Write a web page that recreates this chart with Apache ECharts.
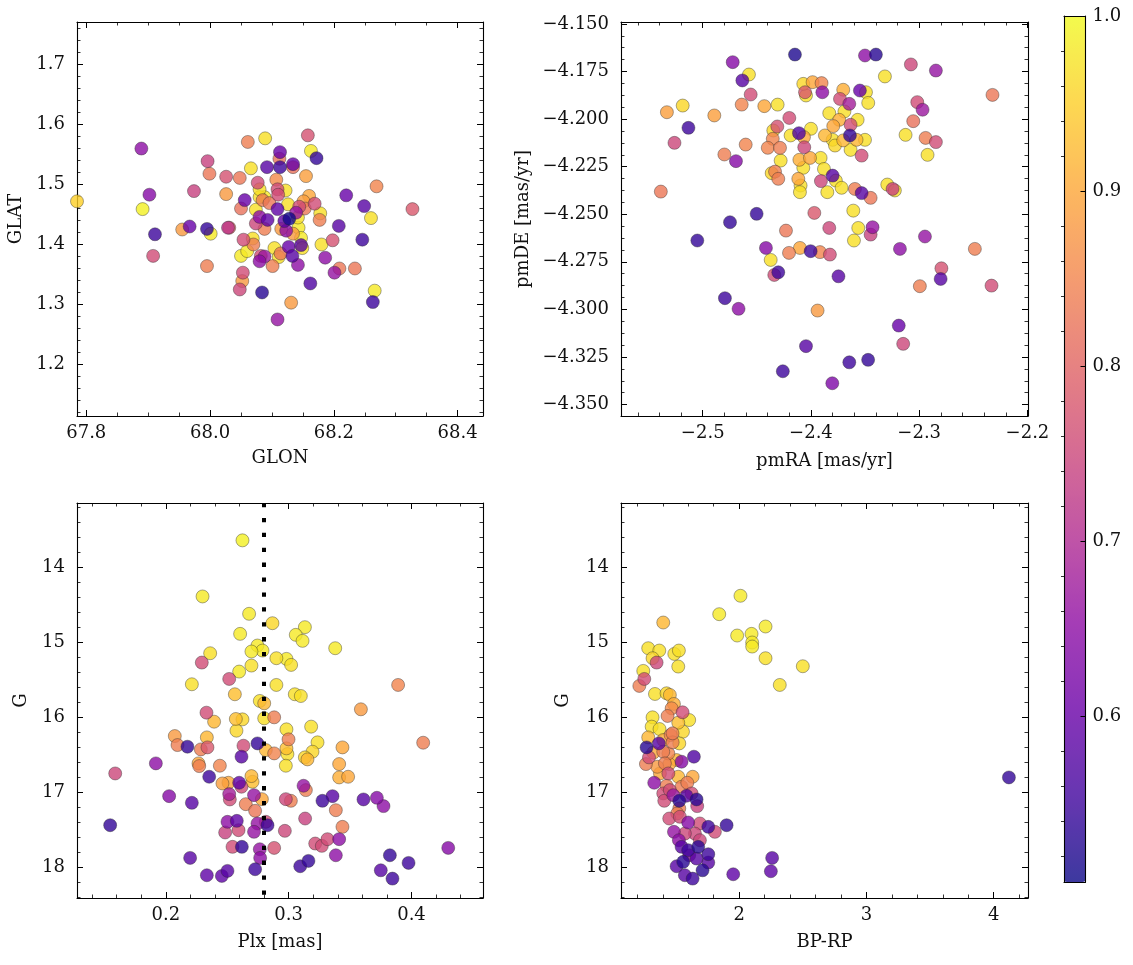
<!DOCTYPE html>
<html>
<head>
<meta charset="utf-8">
<script src="https://cdn.jsdelivr.net/npm/echarts/dist/echarts.min.js"></script>
<style>
  html, body { margin: 0; padding: 0; background: #fff; }
  #chart { width: 1133px; height: 965px; }
</style>
</head>
<body>
<div id="chart"></div>
<script>
// ---------------- data ----------------
// Top-left: GLON vs GLAT
const glon = [67.785,67.889,67.902,67.891,67.911,67.908,67.955,67.967,67.974,67.996,67.999,67.995,68.001,67.995,68.026,68.026,68.029,68.031,68.048,68.056,68.050,68.054,68.053,68.052,68.048,68.061,68.066,68.069,68.050,68.060,68.070,68.077,68.080,68.085,68.074,68.074,68.080,68.088,68.080,68.088,68.084,68.089,68.092,68.088,68.093,68.096,68.101,68.104,68.107,68.109,68.110,68.112,68.113,68.113,68.109,68.115,68.111,68.114,68.109,68.122,68.123,68.120,68.126,68.128,68.127,68.133,68.134,68.134,68.131,68.134,68.142,68.142,68.143,68.139,68.144,68.147,68.149,68.147,68.151,68.153,68.155,68.158,68.160,68.163,68.169,68.172,68.162,68.178,68.177,68.180,68.186,68.198,68.201,68.209,68.208,68.220,68.234,68.246,68.249,68.260,68.266,68.263,68.269,68.327,68.080,68.082];
const glat = [1.472,1.560,1.483,1.459,1.417,1.381,1.425,1.430,1.489,1.539,1.518,1.426,1.418,1.364,1.513,1.484,1.428,1.428,1.511,1.474,1.460,1.408,1.353,1.339,1.325,1.571,1.527,1.410,1.381,1.389,1.400,1.503,1.479,1.474,1.458,1.435,1.446,1.426,1.372,1.380,1.320,1.577,1.529,1.479,1.441,1.469,1.364,1.394,1.508,1.492,1.483,1.543,1.554,1.529,1.459,1.426,1.379,1.385,1.275,1.490,1.423,1.439,1.467,1.443,1.396,1.381,1.534,1.529,1.303,1.418,1.445,1.366,1.428,1.453,1.463,1.399,1.394,1.411,1.472,1.460,1.514,1.582,1.481,1.556,1.468,1.544,1.335,1.452,1.441,1.400,1.378,1.407,1.353,1.360,1.431,1.482,1.360,1.408,1.464,1.444,1.323,1.304,1.497,1.459,1.492,1.381];
const probTL = [0.95,0.65,0.64,0.99,0.55,0.76,0.88,0.60,0.74,0.74,0.83,0.54,0.98,0.84,0.77,0.88,0.72,0.80,0.83,0.60,0.82,0.76,0.76,0.88,0.75,0.84,0.97,0.97,0.98,0.98,0.84,0.76,0.97,0.84,0.97,0.75,0.65,0.84,0.65,0.67,0.53,0.97,0.58,0.98,0.59,0.83,0.84,0.97,0.86,0.76,0.76,0.82,0.60,0.55,0.59,0.88,0.97,0.83,0.66,0.97,0.65,0.59,0.97,0.51,0.60,0.58,0.60,0.82,0.88,0.88,0.97,0.65,0.98,0.66,0.76,0.58,0.97,0.98,0.89,0.83,0.89,0.77,0.90,0.98,0.76,0.54,0.57,0.97,0.84,0.97,0.65,0.77,0.66,0.83,0.58,0.60,0.83,0.55,0.58,0.97,0.98,0.55,0.85,0.78,0.97,0.76];

// Top-right: pmRA vs pmDE
const pmra = [-2.4148,-2.3501,-2.3400,-2.4723,-2.3077,-2.2846,-2.3317,-2.4573,-2.4634,-2.4071,-2.3985,-2.3902,-2.4055,-2.4046,-2.3895,-2.3702,-2.3548,-2.3492,-2.3471,-2.3732,-2.3646,-2.4557,-2.4640,-2.4431,-2.4308,-2.4893,-2.5185,-2.5132,-2.4200,-2.4311,-2.4348,-2.3831,-2.3691,-2.3569,-2.3739,-2.3794,-2.3634,-2.4000,-2.4188,-2.4111,-2.4065,-2.4353,-2.4399,-2.4286,-2.4603,-2.4800,-2.4693,-2.4062,-2.3871,-2.3800,-2.3702,-2.3640,-2.3579,-2.3501,-2.3778,-2.3634,-2.3532,-2.3126,-2.2941,-2.2846,-2.2923,-2.3055,-2.3018,-2.2969,-2.4280,-2.4107,-2.4009,-2.3911,-2.4071,-2.3880,-2.4332,-2.4363,-2.4302,-2.4117,-2.4096,-2.4102,-2.3908,-2.3800,-2.3770,-2.3717,-2.3849,-2.3594,-2.3532,-2.3449,-2.3295,-2.3246,-2.3225,-2.3609,-2.3969,-2.4502,-2.4748,-2.5050,-2.4231,-2.3831,-2.3563,-2.3431,-2.3449,-2.3603,-2.4416,-2.4203,-2.4102,-2.4003,-2.3917,-2.3825,-2.4372,-2.3178,-2.2947,-2.2486,-2.4302,-2.5387,-2.5331,-2.5261,-2.2323,-2.2332,-2.2802,-2.2795,-2.2994,-2.3189,-2.3148,-2.3472,-2.3646,-2.3803,-2.4046,-2.4260,-2.3939,-2.3746,-2.4795,-2.4669,-2.4339];
const pmde = [-4.1661,-4.1666,-4.1661,-4.1701,-4.1713,-4.1745,-4.1776,-4.1766,-4.1797,-4.1815,-4.1806,-4.1811,-4.1859,-4.1876,-4.1859,-4.1846,-4.1850,-4.1859,-4.1915,-4.1894,-4.1920,-4.1871,-4.1924,-4.1932,-4.1924,-4.1981,-4.1929,-4.2046,-4.1994,-4.2039,-4.2060,-4.1969,-4.1960,-4.2004,-4.2004,-4.2037,-4.2030,-4.2051,-4.2086,-4.2074,-4.2095,-4.2104,-4.2151,-4.2151,-4.2134,-4.2186,-4.2221,-4.2148,-4.2086,-4.2109,-4.2112,-4.2086,-4.2109,-4.2109,-4.2139,-4.2162,-4.2192,-4.2083,-4.2099,-4.2121,-4.2188,-4.2011,-4.1911,-4.1951,-4.2218,-4.2214,-4.2204,-4.2204,-4.2256,-4.2262,-4.2276,-4.2284,-4.2314,-4.2314,-4.2349,-4.2384,-4.2326,-4.2297,-4.2323,-4.2361,-4.2384,-4.2367,-4.2389,-4.2414,-4.2344,-4.2367,-4.2375,-4.2481,-4.2493,-4.2498,-4.2542,-4.2638,-4.2586,-4.2572,-4.2572,-4.2568,-4.2607,-4.2638,-4.2677,-4.2703,-4.2677,-4.2694,-4.2699,-4.2712,-4.2740,-4.2682,-4.2617,-4.2682,-4.2805,-4.2381,-4.1964,-4.2125,-4.1873,-4.2875,-4.2840,-4.2784,-4.2878,-4.3085,-4.3181,-4.3265,-4.3278,-4.3388,-4.3193,-4.3325,-4.3006,-4.2826,-4.2941,-4.2997,-4.2819];
const probTR = [0.52,0.65,0.53,0.64,0.75,0.66,0.97,0.97,0.58,0.96,0.90,0.85,0.78,0.97,0.65,0.91,0.60,0.97,0.97,0.76,0.68,0.76,0.85,0.90,0.97,0.89,0.96,0.55,0.76,0.77,0.96,0.97,0.97,0.97,0.91,0.90,0.76,0.97,0.97,0.57,0.90,0.85,0.85,0.84,0.85,0.84,0.64,0.75,0.92,0.97,0.92,0.54,0.92,0.97,0.96,0.97,0.76,0.97,0.84,0.76,0.97,0.82,0.76,0.67,0.97,0.91,0.90,0.97,0.97,0.97,0.84,0.96,0.84,0.90,0.97,0.97,0.75,0.58,0.97,0.97,0.97,0.84,0.58,0.83,0.97,0.74,0.97,0.97,0.78,0.54,0.54,0.54,0.83,0.75,0.97,0.66,0.74,0.97,0.64,0.84,0.90,0.55,0.85,0.76,0.97,0.65,0.66,0.84,0.55,0.83,0.89,0.75,0.83,0.76,0.58,0.77,0.84,0.60,0.75,0.54,0.55,0.63,0.58,0.55,0.88,0.58,0.55,0.65,0.76];

// Bottom-left: Plx vs G
const plx = [0.2624,0.2299,0.2678,0.2868,0.3132,0.2605,0.3058,0.3113,0.3379,0.2746,0.2787,0.2697,0.2361,0.2900,0.2982,0.3020,0.2697,0.2293,0.2597,0.2516,0.2212,0.2900,0.3891,0.2562,0.3050,0.3099,0.2765,0.2801,0.3588,0.2331,0.2393,0.2570,0.2624,0.2801,0.2882,0.2575,0.2982,0.3183,0.3235,0.2999,0.2073,0.2095,0.2334,0.2176,0.2632,0.2746,0.2814,0.2882,0.2982,0.2990,0.3438,0.3194,0.2285,0.2339,0.2616,0.3132,0.3153,0.2266,0.2272,0.2440,0.2977,0.3411,0.1919,0.1588,0.2353,0.2697,0.2706,0.3411,0.3484,0.2461,0.2510,0.2597,0.2616,0.3121,0.3140,0.2027,0.2212,0.2516,0.2521,0.2718,0.2651,0.2782,0.2977,0.3018,0.3275,0.3357,0.3384,0.3609,0.3718,0.3772,0.2727,0.1547,0.2502,0.2578,0.2746,0.2828,0.2814,0.3134,0.3438,0.2483,0.2592,0.2718,0.2969,0.2543,0.2619,0.2765,0.2882,0.3216,0.3270,0.3316,0.3411,0.3384,0.4299,0.2198,0.2768,0.2334,0.2456,0.2502,0.2727,0.3094,0.3161,0.3824,0.3976,0.3750,0.3845,0.4095];
const gmagL = [13.644,14.391,14.622,14.747,14.800,14.889,14.902,14.982,15.080,15.044,15.111,15.124,15.147,15.213,15.222,15.302,15.311,15.271,15.391,15.489,15.560,15.569,15.569,15.693,15.693,15.716,15.782,15.813,15.893,15.938,16.058,16.022,16.027,16.013,16.000,16.178,16.160,16.124,16.333,16.293,16.249,16.369,16.267,16.391,16.378,16.347,16.436,16.480,16.413,16.489,16.400,16.458,16.427,16.400,16.524,16.533,16.560,16.613,16.649,16.644,16.644,16.622,16.613,16.747,16.791,16.782,16.858,16.800,16.791,16.880,16.871,16.871,16.924,16.911,16.969,17.049,17.138,17.022,17.093,17.036,17.156,17.089,17.089,17.111,17.111,17.049,17.236,17.093,17.071,17.182,17.244,17.436,17.391,17.378,17.413,17.436,17.391,17.347,17.458,17.533,17.502,17.524,17.511,17.724,17.724,17.756,17.738,17.680,17.711,17.622,17.622,17.836,17.738,17.871,17.871,18.102,18.111,18.044,18.022,17.982,17.911,17.836,17.938,18.036,18.147,16.338];
const probBL = [0.99,0.98,0.98,0.96,0.98,0.98,0.98,0.98,0.98,0.98,0.98,0.98,0.97,0.97,0.98,0.97,0.97,0.76,0.98,0.76,0.97,0.97,0.85,0.93,0.97,0.97,0.97,0.92,0.88,0.76,0.92,0.93,0.96,0.97,0.84,0.96,0.97,0.97,0.97,0.84,0.88,0.84,0.92,0.54,0.76,0.54,0.92,0.85,0.93,0.97,0.90,0.96,0.84,0.78,0.58,0.96,0.92,0.90,0.84,0.85,0.97,0.90,0.65,0.75,0.55,0.92,0.93,0.91,0.90,0.89,0.90,0.59,0.76,0.66,0.84,0.64,0.58,0.68,0.76,0.66,0.84,0.90,0.75,0.84,0.55,0.58,0.84,0.58,0.64,0.65,0.83,0.54,0.65,0.59,0.66,0.55,0.76,0.74,0.84,0.74,0.76,0.66,0.75,0.76,0.54,0.66,0.77,0.76,0.76,0.76,0.65,0.65,0.64,0.58,0.65,0.59,0.59,0.58,0.55,0.55,0.54,0.54,0.55,0.58,0.55,0.84];
const PLX_REF = 0.2755; // dotted reference line

// Bottom-right: BP-RP vs G
const bprp = [1.403,1.285,1.372,1.319,1.351,1.490,1.526,1.521,1.246,1.254,1.215,1.338,1.429,1.455,1.487,1.469,1.555,1.437,1.521,1.607,1.319,1.312,1.374,1.558,1.285,1.461,1.477,1.529,1.272,1.369,1.403,1.325,1.291,1.443,1.547,1.644,1.267,1.356,1.450,1.443,1.521,1.634,1.332,1.429,1.547,1.403,1.482,1.411,1.529,1.586,1.665,1.670,1.529,1.450,1.599,1.691,1.757,1.809,1.901,1.487,1.526,1.652,1.547,1.678,1.607,1.757,1.560,1.508,1.757,1.712,1.573,1.634,1.953,2.259,2.249,1.843,2.010,1.984,2.097,2.102,2.102,2.207,2.207,2.319,2.500,4.120,1.403,1.476,1.508,1.416,1.377,1.592,1.455,1.534,1.691,1.573,1.665,1.599,1.513,1.626];
const gmagR = [14.738,15.080,15.111,15.213,15.271,15.156,15.111,15.324,15.382,15.489,15.582,15.689,15.680,15.702,15.822,15.880,15.933,15.982,16.071,16.036,16.000,16.124,16.156,16.191,16.267,16.236,16.333,16.347,16.400,16.347,16.458,16.471,16.533,16.480,16.591,16.524,16.622,16.658,16.622,16.747,16.791,16.791,16.871,16.911,16.924,17.013,17.036,17.111,17.111,17.044,17.093,17.182,17.213,17.347,17.400,17.413,17.458,17.524,17.436,17.524,17.636,17.547,17.724,17.724,17.836,17.822,17.924,17.982,17.933,18.036,18.102,18.147,18.089,17.871,18.049,14.627,14.382,14.911,14.889,15.004,15.058,14.791,15.213,15.569,15.320,16.800,16.302,16.213,16.569,16.613,16.747,16.871,16.969,17.324,17.636,17.547,17.880,17.769,17.280,17.013];
const probBR = [0.92,0.97,0.97,0.96,0.75,0.97,0.97,0.97,0.97,0.76,0.84,0.97,0.96,0.92,0.91,0.86,0.76,0.84,0.93,0.97,0.97,0.97,0.97,0.96,0.92,0.85,0.84,0.96,0.53,0.58,0.84,0.90,0.76,0.85,0.64,0.57,0.84,0.88,0.90,0.76,0.92,0.90,0.65,0.84,0.84,0.76,0.67,0.76,0.53,0.58,0.53,0.74,0.84,0.76,0.64,0.76,0.55,0.76,0.54,0.66,0.65,0.75,0.58,0.53,0.65,0.55,0.53,0.58,0.58,0.53,0.58,0.55,0.59,0.58,0.59,0.98,0.98,0.98,0.98,0.98,0.98,0.98,0.97,0.97,0.97,0.54,0.91,0.84,0.92,0.84,0.90,0.84,0.76,0.76,0.75,0.75,0.58,0.55,0.84,0.76];

// ---------------- tick labels ----------------
const tlXTicks = [67.8, 68.0, 68.2, 68.4];
const tlYTicks = [1.2, 1.3, 1.4, 1.5, 1.6, 1.7];
const trXTicks = [-2.5, -2.4, -2.3, -2.2];
const trYTicks = [-4.35, -4.325, -4.3, -4.275, -4.25, -4.225, -4.2, -4.175, -4.15];
const blXTicks = [0.2, 0.3, 0.4];
const gTicks = [14, 15, 16, 17, 18];
const brXTicks = [2, 3, 4];
const cbTicks = [0.6, 0.7, 0.8, 0.9, 1.0];
const PROB_MIN = 0.505, PROB_MAX = 1.0;

// ---------------- styling ----------------
const FONT = "'DejaVu Serif','Liberation Serif',serif";
const FS = 18;
const PLASMA = ['#0d0887','#41049d','#6a00a8','#8f0da4','#b12a90','#cc4778','#e16462','#f2844b','#fca636','#fcce25','#f0f921'];
// same colours seen through alpha 0.8 on white (for the colour bar)
const PLASMA_BAR = ['#3d399f','#6736b1','#8833b9','#a53db6','#c155a6','#d66c93','#e78381','#f59d6f','#fdb85e','#fdd851','#f3fa4d'];

const minusFmt = d => v => v.toFixed(d).replace('-', '\u2212');

function zip(xs, ys, ps) {
  const idx = xs.map((_, i) => i);
  idx.sort((a, b) => ps[b] - ps[a]);
  return idx.map(i => [xs[i], ys[i], ps[i]]);
}
function minorVals(spec) {
  const out = [];
  const k0 = Math.ceil(spec.min / spec.minor - 1e-9), k1 = Math.floor(spec.max / spec.minor + 1e-9);
  for (let k = k0; k <= k1; k++) {
    const v = +(k * spec.minor).toFixed(6);
    if (!spec.major.some(m => Math.abs(m - v) < 1e-7)) out.push(v);
  }
  return out;
}

const panels = [
  { grid: {left: 77, top: 22, width: 406, height: 394},
    x: {min: 67.785, max: 68.441, major: tlXTicks, minor: 0.05, fmt: minusFmt(1), name: 'GLON', gap: 33},
    y: {min: 1.114, max: 1.771, major: tlYTicks, minor: 0.02, fmt: minusFmt(1), name: 'GLAT', gap: 52},
    data: zip(glon, glat, probTL) },
  { grid: {left: 621, top: 22, width: 407, height: 394},
    x: {min: -2.5755, max: -2.1995, major: trXTicks, minor: 0.02, fmt: minusFmt(1), name: 'pmRA [mas/yr]', gap: 36},
    y: {min: -4.356, max: -4.149, major: trYTicks, minor: 0.00625, fmt: minusFmt(3), name: 'pmDE [mas/yr]', gap: 89},
    data: zip(pmra, pmde, probTR) },
  { grid: {left: 77, top: 503, width: 406, height: 395},
    x: {min: 0.1277, max: 0.4582, major: blXTicks, minor: 0.02, fmt: minusFmt(1), name: 'Plx [mas]', gap: 35},
    y: {min: 13.147, max: 18.405, major: gTicks, minor: 0.2, fmt: minusFmt(0), name: 'G', gap: 47, inverse: true},
    data: zip(plx, gmagL, probBL), refLine: true },
  { grid: {left: 621, top: 503, width: 407, height: 395},
    x: {min: 1.071, max: 4.27, major: brXTicks, minor: 0.2, fmt: minusFmt(0), name: 'BP-RP', gap: 35},
    y: {min: 13.147, max: 18.405, major: gTicks, minor: 0.2, fmt: minusFmt(0), name: 'G', gap: 49, inverse: true},
    data: zip(bprp, gmagR, probBR) }
];

const grid = [], xAxis = [], yAxis = [], series = [];
const LINE = {show: true, onZero: false, lineStyle: {color: '#000', width: 1.1}};
const txt = {fontFamily: FONT, fontSize: FS, color: '#111'};

function axesFor(gi, spec, isX, z) {
  const posA = isX ? 'bottom' : 'left', posB = isX ? 'top' : 'right';
  const minors = minorVals(spec);
  const base = {type: 'value', gridIndex: gi, min: spec.min, max: spec.max, inverse: !!spec.inverse,
    splitLine: {show: false}, axisPointer: {show: false}, z: z || 0};
  const majT = {show: true, inside: true, length: 6, customValues: spec.major, lineStyle: {color: '#000', width: 1}};
  const minT = {show: true, inside: true, length: 3.5, customValues: minors, lineStyle: {color: '#000', width: 0.8}};
  return [
    Object.assign({}, base, {position: posA, axisLine: LINE, axisTick: majT,
      axisLabel: Object.assign({show: true, customValues: spec.major, formatter: spec.fmt, margin: isX ? 8 : 12}, txt),
      name: spec.name, nameLocation: 'middle', nameGap: spec.gap, nameTextStyle: txt}),
    Object.assign({}, base, {position: posA, axisLine: {show: false}, axisTick: minT, axisLabel: {show: false}}),
    Object.assign({}, base, {position: posB, axisLine: LINE, axisTick: majT, axisLabel: {show: false}}),
    Object.assign({}, base, {position: posB, axisLine: {show: false}, axisTick: minT, axisLabel: {show: false}})
  ];
}

panels.forEach((p, gi) => {
  grid.push(Object.assign({containLabel: false}, p.grid));
  const xi = xAxis.length, yi = yAxis.length;
  xAxis.push(...axesFor(gi, p.x, true));
  yAxis.push(...axesFor(gi, p.y, false));
  const s = {
    type: 'scatter', xAxisIndex: xi, yAxisIndex: yi, data: p.data, symbolSize: 13,
    itemStyle: {opacity: 0.8, borderColor: '#2b2b2b', borderWidth: 0.5},
    emphasis: {disabled: true}, animation: false, clip: true
  };
  if (p.refLine) {
    s.markLine = {silent: true, symbol: ['none', 'none'], animation: false, label: {show: false},
      lineStyle: {color: '#000', width: 4, type: [4.3, 10.6], cap: 'butt', opacity: 1},
      emphasis: {disabled: true}, data: [{xAxis: PLX_REF}]};
  }
  series.push(s);
});

// colour bar frame + ticks
const cbGi = grid.length;
grid.push({left: 1064, top: 16, width: 21.5, height: 866});
xAxis.push({type: 'value', gridIndex: cbGi, min: 0, max: 1, position: 'bottom', z: 10, axisLine: LINE, axisTick: {show: false}, axisLabel: {show: false}, splitLine: {show: false}});
xAxis.push({type: 'value', gridIndex: cbGi, min: 0, max: 1, position: 'top', z: 10, axisLine: LINE, axisTick: {show: false}, axisLabel: {show: false}, splitLine: {show: false}});
const cbSpec = {min: PROB_MIN, max: PROB_MAX + 0.0004, major: cbTicks, minor: 0.02};
const cbMinors = minorVals(cbSpec);
yAxis.push({type: 'value', gridIndex: cbGi, min: cbSpec.min, max: cbSpec.max, position: 'left', z: 10, axisLine: LINE, axisTick: {show: false}, axisLabel: {show: false}, splitLine: {show: false}});
yAxis.push({type: 'value', gridIndex: cbGi, min: cbSpec.min, max: cbSpec.max, position: 'right', z: 10, axisLine: LINE,
  axisTick: {show: true, inside: true, length: 5, customValues: cbTicks, lineStyle: {color: '#000', width: 1}},
  axisLabel: Object.assign({show: true, customValues: cbTicks, formatter: v => v.toFixed(1), margin: 7}, txt),
  splitLine: {show: false}});
yAxis.push({type: 'value', gridIndex: cbGi, min: cbSpec.min, max: cbSpec.max, position: 'right', z: 10, axisLine: {show: false},
  axisTick: {show: true, inside: true, length: 3, customValues: cbMinors, lineStyle: {color: '#000', width: 0.8}},
  axisLabel: {show: false}, splitLine: {show: false}});

const option = {
  backgroundColor: '#fff',
  animation: false,
  grid, xAxis, yAxis, series,
  visualMap: {
    type: 'continuous', min: PROB_MIN, max: PROB_MAX, dimension: 2, seriesIndex: [0, 1, 2, 3],
    left: 1064, top: 16, itemWidth: 21.5, itemHeight: 866, padding: 0,
    calculable: false, realtime: false, hoverLink: false, showLabel: false, text: null,
    inRange: {color: PLASMA},
    controller: {inRange: {color: PLASMA_BAR}},
    z: 2
  }
};

const chart = echarts.init(document.getElementById('chart'), null, {renderer: 'canvas'});
chart.setOption(option);
</script>
</body>
</html>
